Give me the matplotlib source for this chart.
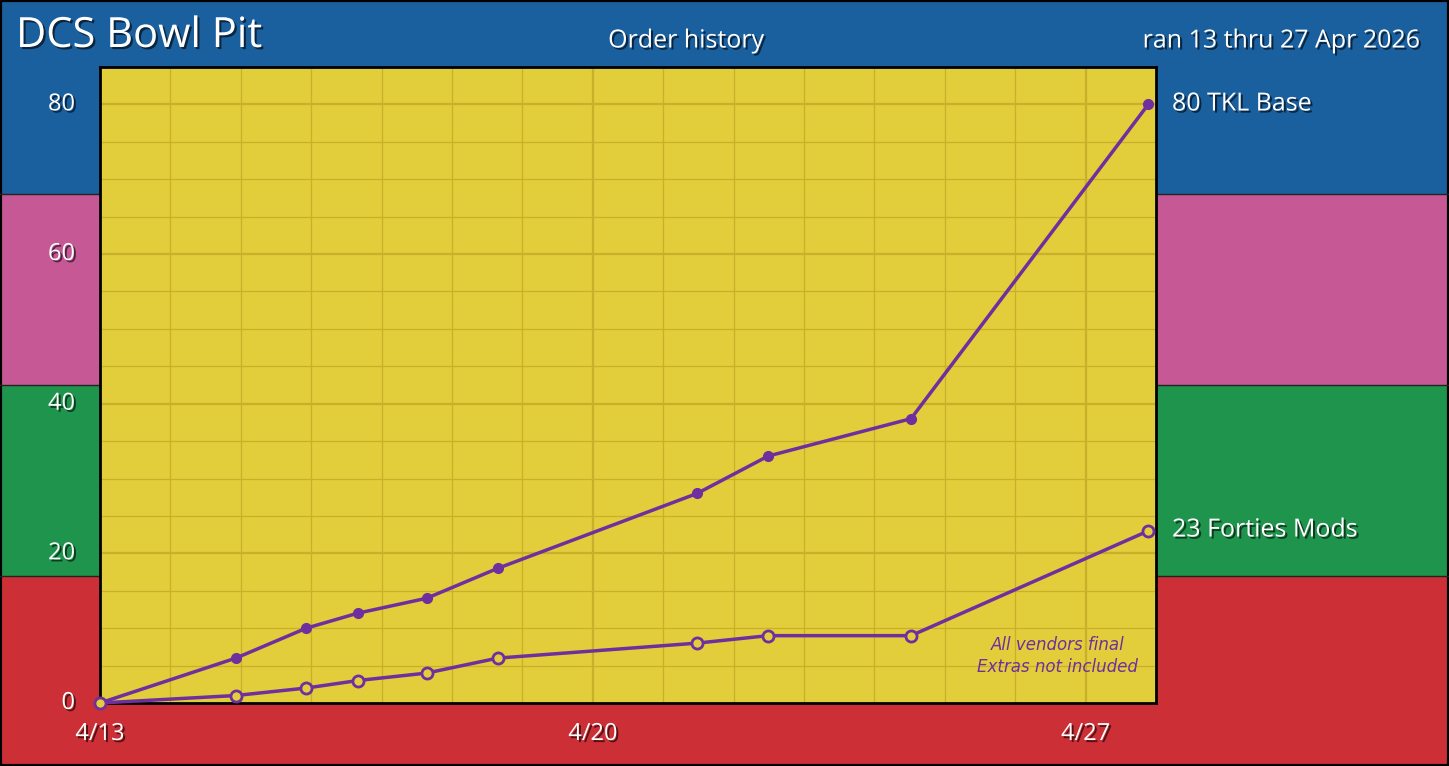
import matplotlib
matplotlib.use("Agg")
import matplotlib.pyplot as plt
import matplotlib.patheffects as pe
import numpy as np

days = [0, 1.93, 2.93, 3.66, 4.64, 5.65, 8.48, 9.49, 11.52, 14.89]  # days after 4/13
tkl_base = [0, 6, 10, 12, 14, 18, 28, 33, 38, 80]
forties_mods = [0, 1, 2, 3, 4, 6, 8, 9, 9, 23]
tick_days = [0, 7, 14]
tick_labels = ["4/13", "4/20", "4/27"]
yticks = [0, 20, 40, 60, 80]
bands = [(-100, 17, "#cc2f35"), (17, 42.5, "#1f944c"), (42.5, 68, "#c65896"), (68, 200, "#1a5f9e")]

W, H = 1449, 766
fig = plt.figure(figsize=(W/100, H/100), dpi=100)
x0, x1, ytop, ybot = 100, 1156, 67, 703
ymax = 85
ppu = (ybot - ytop) / ymax
bg = fig.add_axes([0, 0, 1, 1])
bg.set_xlim(0, W)
bg.set_ylim(-(H - ybot) / ppu, ymax + ytop / ppu)
bg.axis("off")
for lo, hi, c in bands:
    bg.axhspan(lo, hi, color=c, lw=0)
bg.add_patch(plt.Rectangle((0, bg.get_ylim()[0]), W, bg.get_ylim()[1]-bg.get_ylim()[0],
                           fill=False, ec="black", lw=3))
for lo, hi, c in bands[:-1]:
    bg.axhline(hi, color="#222222", lw=1)

ax = fig.add_axes([x0/W, (H-ybot)/H, (x1-x0)/W, (ybot-ytop)/H])
ax.set_facecolor("#e2cd3a")
ax.set_xlim(0, 15)
ax.set_ylim(0, ymax)
for d in range(1, 15):
    ax.axvline(d, color="#c8b02a", lw=1.6 if d in tick_days else 0.9, zorder=1)
for v in range(5, ymax, 5):
    ax.axhline(v, color="#c8b02a", lw=1.6 if v % 20 == 0 else 0.9, zorder=1)
for s in ax.spines.values():
    s.set_linewidth(2)
ax.set_xticks([]); ax.set_yticks([])

purple = "#6f2f9e"
ax.plot(days, tkl_base, color=purple, lw=2.5, marker="o", ms=7, zorder=3, clip_on=False)
ax.plot(days, forties_mods, color=purple, lw=2.5, marker="o", ms=8, mfc="#e2cd3a",
        mew=2, zorder=3, clip_on=False)
ax.text(13.6, 6.3, "All vendors final\nExtras not included", color=purple, fontsize=12,
        style="italic", family="Liberation Sans Narrow", ha="center", va="center", linespacing=1.3)

sh = [pe.withSimplePatchShadow(offset=(1.5, -1.5), shadow_rgbFace="black", alpha=0.6)]
def t(x, y, s, size, **kw):
    fig.text(x/W, 1-y/H, s, color="white", fontsize=size, family="Open Sans", path_effects=sh, **kw)

t(16, 36, "DCS Bowl Pit", 30, va="center", ha="left")
t(686, 41, "Order history", 18, va="center", ha="center")
t(1420, 41, "ran 13 thru 27 Apr 2026", 18, va="center", ha="right")
for v in yticks:
    t(75, ybot - v*ppu, str(v), 17, va="center", ha="right")
for d, l in zip(tick_days, tick_labels):
    t(x0 + d*(x1-x0)/15, 734, l, 17, va="center", ha="center")
t(1172, 104, f"{tkl_base[-1]} TKL Base", 18, va="center", ha="left")
t(1172, 530, f"{forties_mods[-1]} Forties Mods", 18, va="center", ha="left")

fig.savefig("out.png", dpi=100)
